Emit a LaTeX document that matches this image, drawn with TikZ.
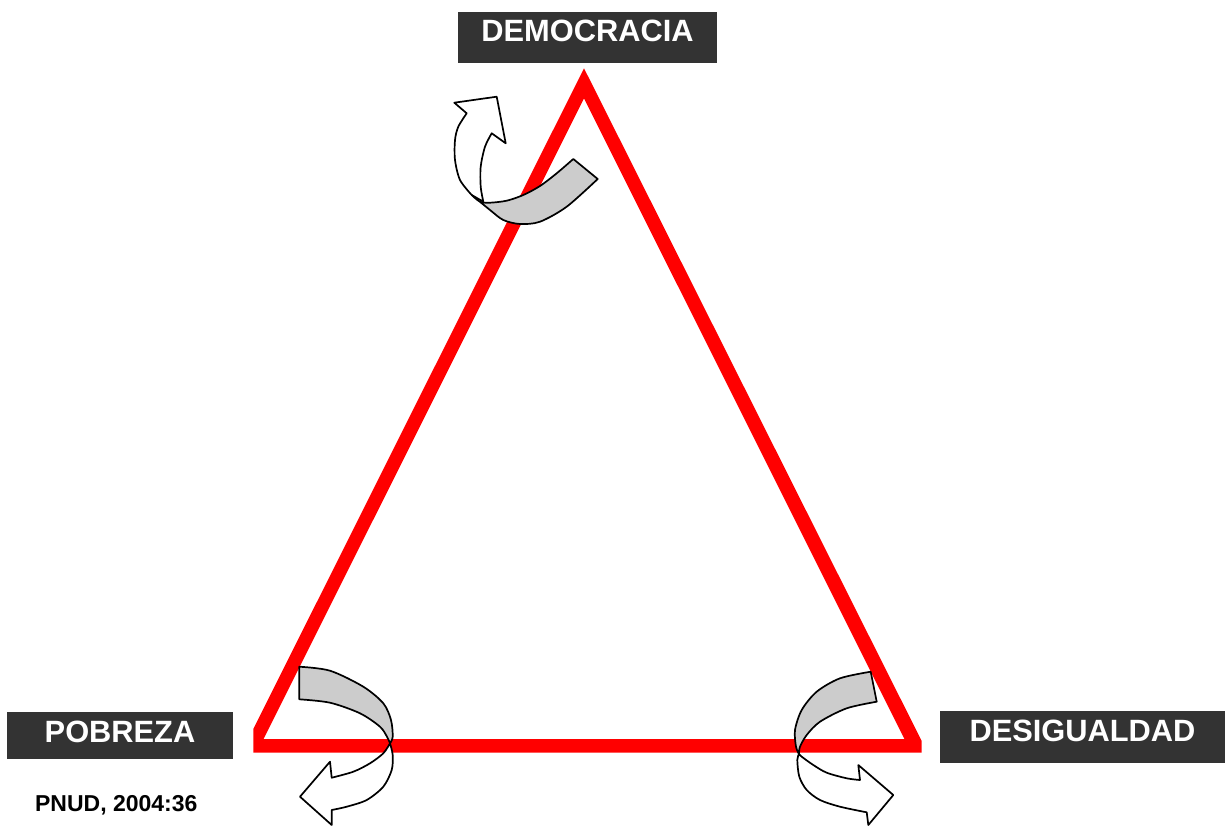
\documentclass[tikz,border=0pt]{standalone}
\usepackage{fontspec}
\setmainfont{Liberation Sans}
\definecolor{boxgray}{HTML}{333333}
\definecolor{bandgray}{HTML}{CCCCCC}
\definecolor{framered}{HTML}{FF0000}
\begin{document}
\begin{tikzpicture}[x=1pt,y=-1pt,
  labelbox/.style={fill=boxgray,text=white,inner sep=0pt,anchor=north,
    font=\bfseries\fontsize{30.8}{36}\selectfont},
  arrowwhite/.style={fill=white,draw=black,line width=1.7pt,line join=round},
  arrowband/.style={fill=bandgray,draw=black,line width=1.7pt,line join=round},
  source/.style={anchor=base,font=\bfseries\fontsize{23}{27}\selectfont}]
\useasboundingbox (0,0) rectangle (1225,826);
\fill[white] (0,0) rectangle (1225,826);

% red triangle frame
\fill[framered,even odd rule]
  (584,68.3) -- (921.7,741) -- (921.7,752.7) -- (253.3,752.7) -- (253.3,729) -- cycle
  (584,98.3) -- (904.4,739) -- (263.6,739) -- cycle;

% labels
\node[labelbox,minimum width=259pt,text height=30pt,text depth=21.3pt]
  (democracia) at (587.5,11.7) {DEMOCRACIA};
\node[labelbox,minimum width=226pt,text height=30.6pt,text depth=16pt]
  (pobreza) at (120,711.7) {POBREZA};
\node[labelbox,minimum width=285pt,text height=30.7pt,text depth=21pt]
  (desigualdad) at (1082.5,711) {DESIGUALDAD};
\node[source] (fuente) at (116.3,811.7) {PNUD, 2004:36};

% twisted arrow at the apex
\path[arrowwhite] (471.7,195)
  -- plot[smooth] coordinates {(471.7,195) (460,180) (455,160) (455,140) (458.3,126.7) (466.7,113.3)}
  -- (454.3,102.7) -- (496.7,96.7) -- (505.7,143.3) -- (491.7,133.3)
  -- plot[smooth] coordinates {(491.7,133.3) (485,146.7) (480.7,166.7) (480.7,186.7) (483.3,201.7)}
  -- cycle;
\path[arrowband] (573.3,159)
  -- plot[smooth] coordinates {(573.3,159) (556.7,173.3) (540,186) (523.3,195) (506.7,200.7) (490,202.7) (480,201.7) (471.7,195)}
  -- plot[smooth] coordinates {(471.7,195) (490,210) (503.3,220) (520,224) (540,221.7) (566.7,206.7) (597.7,179)}
  -- cycle;

% twisted arrow at the lower left corner
\path[arrowband] (299.3,666.7)
  -- plot[smooth] coordinates {(299.3,666.7) (330,670.7) (363.3,686.7) (383.3,703.3) (391,720) (392.7,736.7) (390,743.3)}
  -- plot[smooth] coordinates {(390,743.3) (387.3,737.3) (380,726.7) (360,713.3) (330,702.7) (299.3,699.3)}
  -- cycle;
\path[arrowwhite] (390,743.3)
  -- plot[smooth] coordinates {(390,743.3) (392.7,755) (391.7,770) (383.3,786.7) (366.7,800) (346.7,806.7) (331.7,810)}
  -- (331.7,825) -- (300,796.7) -- (330,761.7) -- (331.7,777.7)
  -- plot[smooth] coordinates {(331.7,777.7) (353.3,771.7) (370,763.3) (383.3,753.3) (390,743.3)}
  -- cycle;

% twisted arrow at the lower right corner
\path[arrowband] (870.7,671.7)
  -- plot[smooth] coordinates {(870.7,671.7) (840,678.3) (816.7,691.7) (801.7,710) (795,730) (796,746.7) (799,754)}
  -- plot[smooth] coordinates {(799,754) (800,746.7) (806.7,735) (820,721.7) (846.7,708.3) (876.7,701.7)}
  -- cycle;
\path[arrowwhite] (799,754)
  -- plot[smooth] coordinates {(799,754) (797.3,760) (799.3,776.7) (806.7,790) (820,800) (840,806.7) (866.7,812.3)}
  -- (868.3,825) -- (893.3,795) -- (858.3,765) -- (860,780)
  -- plot[smooth] coordinates {(860,780) (846.7,778.3) (826.7,772.7) (813.3,765) (801.7,756.7) (799,754)}
  -- cycle;
\end{tikzpicture}
\end{document}
